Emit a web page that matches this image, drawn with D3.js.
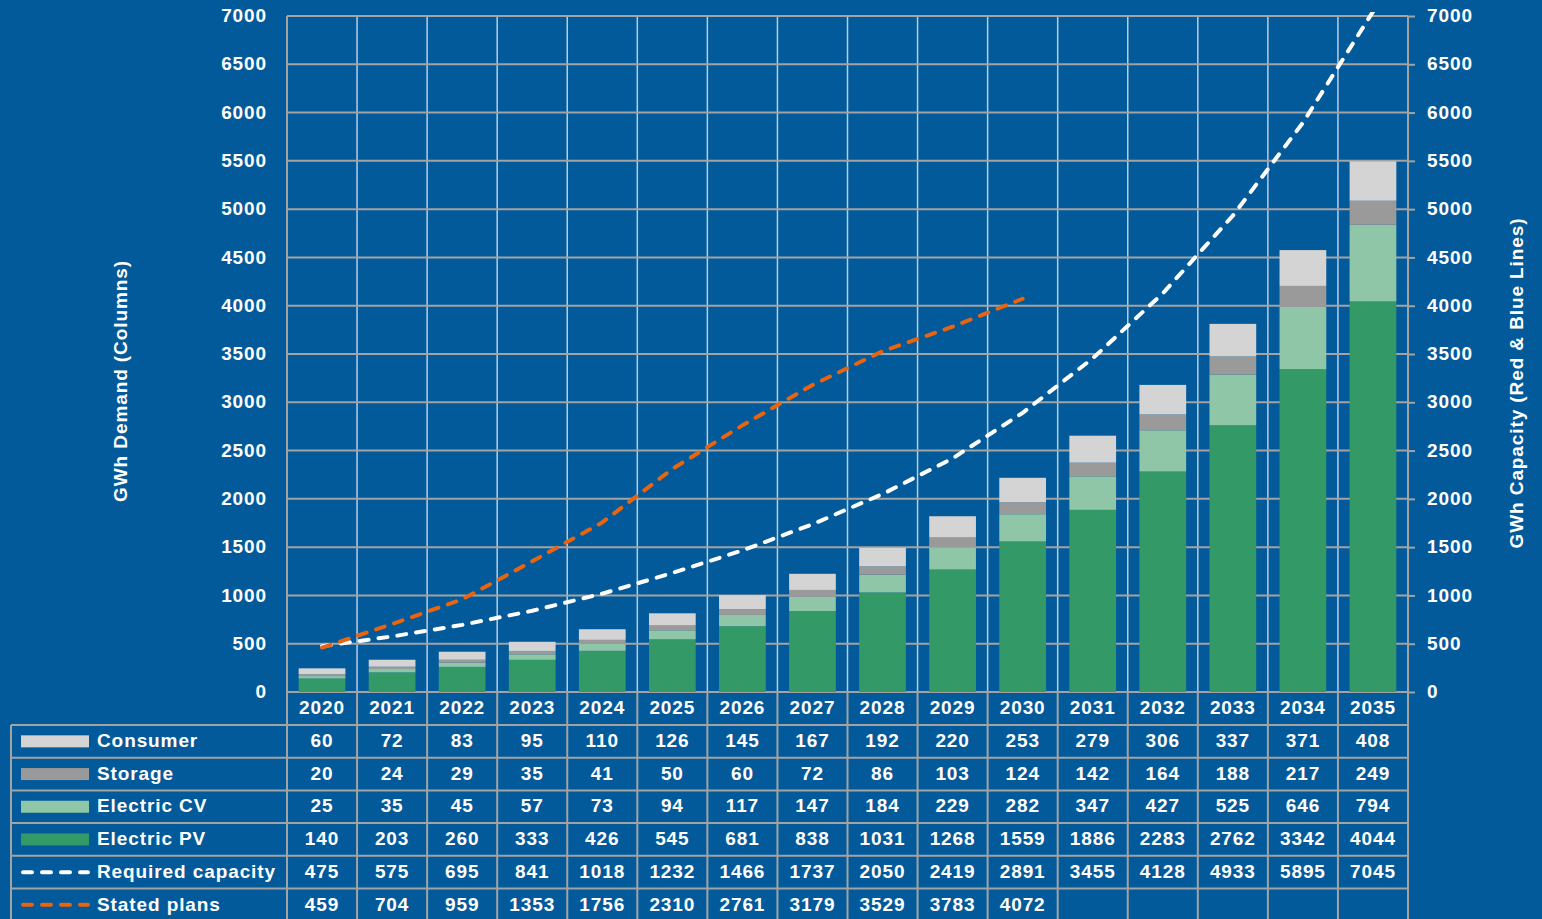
<!DOCTYPE html>
<html>
<head>
<meta charset="utf-8">
<script src="https://cdnjs.cloudflare.com/ajax/libs/d3/7.8.5/d3.min.js"></script>
<style>
	body { margin: 0; background: #035a9a; }
	svg text { font-family: "Liberation Sans", Arial, sans-serif; font-weight: bold; fill: #ffffff; }
</style>
</head>
<body>
<div id="chart"></div>
<script>
///////////////////////////////////////////////////////////////////////////
//////////////////////////////// The data /////////////////////////////////
///////////////////////////////////////////////////////////////////////////
var years = ["2020","2021","2022","2023","2024","2025","2026","2027","2028","2029","2030","2031","2032","2033","2034","2035"];
var consumer = [60,72,83,95,110,126,145,167,192,220,253,279,306,337,371,408];
var storage = [20,24,29,35,41,50,60,72,86,103,124,142,164,188,217,249];
var electricCV = [25,35,45,57,73,94,117,147,184,229,282,347,427,525,646,794];
var electricPV = [140,203,260,333,426,545,681,838,1031,1268,1559,1886,2283,2762,3342,4044];
var requiredCapacity = [475,575,695,841,1018,1232,1466,1737,2050,2419,2891,3455,4128,4933,5895,7045];
var statedPlans = [459,704,959,1353,1756,2310,2761,3179,3529,3783,4072];
var yTicks = [0,500,1000,1500,2000,2500,3000,3500,4000,4500,5000,5500,6000,6500,7000];

//stack order from the bottom up
var series = [
	{ name: "Electric PV", values: electricPV, color: "#339966" },
	{ name: "Electric CV", values: electricCV, color: "#8fc6a7" },
	{ name: "Storage", values: storage, color: "#9a9a9a" },
	{ name: "Consumer", values: consumer, color: "#d4d4d4" }
];
var lines = [
	{ name: "Required capacity", values: requiredCapacity, color: "#ffffff" },
	{ name: "Stated plans", values: statedPlans, color: "#e8640f" }
];
//table rows from the top down
var tableRows = [series[3], series[2], series[1], series[0], lines[0], lines[1]];

///////////////////////////////////////////////////////////////////////////
//////////////////////////// Set up the SVG ///////////////////////////////
///////////////////////////////////////////////////////////////////////////
var width = 1542, height = 919;
var plot = { left: 287, right: 1408, top: 16, bottom: 692 };
var tableLeft = 11, headerBottom = 725, rowHeight = 32.7;
var gridColor = "#a3a3a3";
var fontSize = "19px", spacing = "0.9px", textDy = "0.3em";

var svg = d3.select("#chart").append("svg")
	.attr("width", width)
	.attr("height", height);

svg.append("rect").attr("width", width).attr("height", height).style("fill", "#035a9a");

var x = d3.scaleBand().domain(years).range([plot.left, plot.right]).padding(0);
var y = d3.scaleLinear().domain([0, 7000]).range([plot.bottom, plot.top]);
var barWidth = x.bandwidth() * 0.667;

svg.append("clipPath").attr("id", "plot-clip")
	.append("rect")
	.attr("x", plot.left).attr("y", plot.top - 4)
	.attr("width", plot.right - plot.left).attr("height", plot.bottom - plot.top + 4);

///////////////////////////////////////////////////////////////////////////
///////////////////////////////// Grid ////////////////////////////////////
///////////////////////////////////////////////////////////////////////////
//vertical category lines inside the plot
svg.append("g").selectAll("line")
	.data(years.slice(1))
	.enter().append("line")
	.attr("x1", function(d) { return x(d); })
	.attr("x2", function(d) { return x(d); })
	.attr("y1", plot.top)
	.attr("y2", plot.bottom)
	.style("stroke", "#b9cde0")
	.style("stroke-width", 1.5);

svg.append("g").selectAll("line")
	.data(yTicks)
	.enter().append("line")
	.attr("x1", plot.left)
	.attr("x2", plot.right)
	.attr("y1", function(d) { return y(d); })
	.attr("y2", function(d) { return y(d); })
	.style("stroke", gridColor)
	.style("stroke-width", 2);

///////////////////////////////////////////////////////////////////////////
///////////////////////////////// Bars ////////////////////////////////////
///////////////////////////////////////////////////////////////////////////
var stackData = years.map(function(yr, i) {
	var row = { year: yr };
	series.forEach(function(s) { row[s.name] = s.values[i]; });
	return row;
});
var stacked = d3.stack().keys(series.map(function(s) { return s.name; }))(stackData);

svg.append("g").selectAll("g")
	.data(stacked)
	.enter().append("g")
	.style("fill", function(d, i) { return series[i].color; })
	.selectAll("rect")
	.data(function(d) { return d; })
	.enter().append("rect")
	.attr("x", function(d) { return x(d.data.year) + (x.bandwidth() - barWidth) / 2; })
	.attr("y", function(d) { return y(d[1]); })
	.attr("width", barWidth)
	.attr("height", function(d) { return y(d[0]) - y(d[1]); });

///////////////////////////////////////////////////////////////////////////
///////////////////////////////// Lines ///////////////////////////////////
///////////////////////////////////////////////////////////////////////////
var line = d3.line()
	.x(function(d, i) { return x(years[i]) + x.bandwidth() / 2; })
	.y(function(d) { return y(d); });

svg.append("g").attr("clip-path", "url(#plot-clip)")
	.selectAll("path")
	.data(lines)
	.enter().append("path")
	.attr("d", function(d) { return line(d.values); })
	.style("fill", "none")
	.style("stroke", function(d) { return d.color; })
	.style("stroke-width", 4)
	.style("stroke-linecap", "round")
	.style("stroke-dasharray", "9,10");

///////////////////////////////////////////////////////////////////////////
///////////////////////////////// Axes ////////////////////////////////////
///////////////////////////////////////////////////////////////////////////
var leftAxis = svg.append("g")
	.attr("transform", "translate(" + plot.left + ",0)")
	.call(d3.axisLeft(y).tickValues(yTicks).tickSize(0).tickPadding(20).tickFormat(d3.format("d")));

var rightAxis = svg.append("g")
	.attr("transform", "translate(" + plot.right + ",0)")
	.call(d3.axisRight(y).tickValues(yTicks).tickSize(7).tickPadding(12).tickFormat(d3.format("d")));

[leftAxis, rightAxis].forEach(function(ax) {
	ax.select(".domain").remove();
	ax.selectAll(".tick line").style("stroke", gridColor).style("stroke-width", 2);
	ax.selectAll(".tick text")
		.attr("dy", textDy)
		.style("font-size", fontSize)
		.style("letter-spacing", spacing)
		.style("font-family", "'Liberation Sans', Arial, sans-serif")
		.style("fill", "#fff");
});

svg.append("text")
	.attr("transform", "translate(121,381) rotate(-90)")
	.attr("text-anchor", "middle")
	.attr("dy", textDy)
	.style("font-size", fontSize)
	.style("letter-spacing", spacing)
	.text("GWh Demand (Columns)");

svg.append("text")
	.attr("transform", "translate(1517,383) rotate(-90)")
	.attr("text-anchor", "middle")
	.attr("dy", textDy)
	.style("font-size", fontSize)
	.style("letter-spacing", spacing)
	.text("GWh Capacity (Red & Blue Lines)");

///////////////////////////////////////////////////////////////////////////
//////////////////////////////// Data table ///////////////////////////////
///////////////////////////////////////////////////////////////////////////
var table = svg.append("g").attr("class", "data-table");
var tableBottom = height + 2;

//horizontal row lines
table.selectAll(".row-line")
	.data(d3.range(tableRows.length))
	.enter().append("line")
	.attr("x1", tableLeft)
	.attr("x2", plot.right)
	.attr("y1", function(i) { return headerBottom + i * rowHeight; })
	.attr("y2", function(i) { return headerBottom + i * rowHeight; })
	.style("stroke", gridColor)
	.style("stroke-width", 2);

//vertical lines
table.selectAll(".col-line")
	.data(years.concat(["end"]))
	.enter().append("line")
	.attr("x1", function(d) { return d === "end" ? plot.right : x(d); })
	.attr("x2", function(d) { return d === "end" ? plot.right : x(d); })
	.attr("y1", function(d, i) { return (i === 0 || d === "end") ? plot.top : plot.bottom; })
	.attr("y2", tableBottom)
	.style("stroke", gridColor)
	.style("stroke-width", 2);

table.append("line")
	.attr("x1", tableLeft).attr("x2", tableLeft)
	.attr("y1", headerBottom).attr("y2", tableBottom)
	.style("stroke", gridColor)
	.style("stroke-width", 2);

//year header
table.selectAll(".year-label")
	.data(years)
	.enter().append("text")
	.attr("x", function(d) { return x(d) + x.bandwidth() / 2; })
	.attr("y", (plot.bottom + headerBottom) / 2)
	.attr("dy", textDy)
	.attr("text-anchor", "middle")
	.style("font-size", fontSize)
	.style("letter-spacing", spacing)
	.text(function(d) { return d; });

var rows = table.selectAll(".table-row")
	.data(tableRows)
	.enter().append("g")
	.attr("transform", function(d, i) { return "translate(0," + (headerBottom + (i + 0.5) * rowHeight) + ")"; });

//legend keys
rows.each(function(d, i) {
	var g = d3.select(this);
	if (i < 4) {
		g.append("rect")
			.attr("x", 21).attr("y", -6)
			.attr("width", 68).attr("height", 12)
			.style("fill", d.color);
	} else {
		g.append("line")
			.attr("x1", 23).attr("x2", 88)
			.attr("y1", 0).attr("y2", 0)
			.style("stroke", d.color)
			.style("stroke-width", 4)
			.style("stroke-linecap", "round")
			.style("stroke-dasharray", "9,10");
	}
});

rows.append("text")
	.attr("x", 97)
	.attr("dy", textDy)
	.style("font-size", fontSize)
	.style("letter-spacing", spacing)
	.text(function(d) { return d.name; });

rows.selectAll(".cell")
	.data(function(d) { return d.values; })
	.enter().append("text")
	.attr("x", function(d, i) { return x(years[i]) + x.bandwidth() / 2; })
	.attr("dy", textDy)
	.attr("text-anchor", "middle")
	.style("font-size", fontSize)
	.style("letter-spacing", spacing)
	.text(function(d) { return d; });
</script>
</body>
</html>
